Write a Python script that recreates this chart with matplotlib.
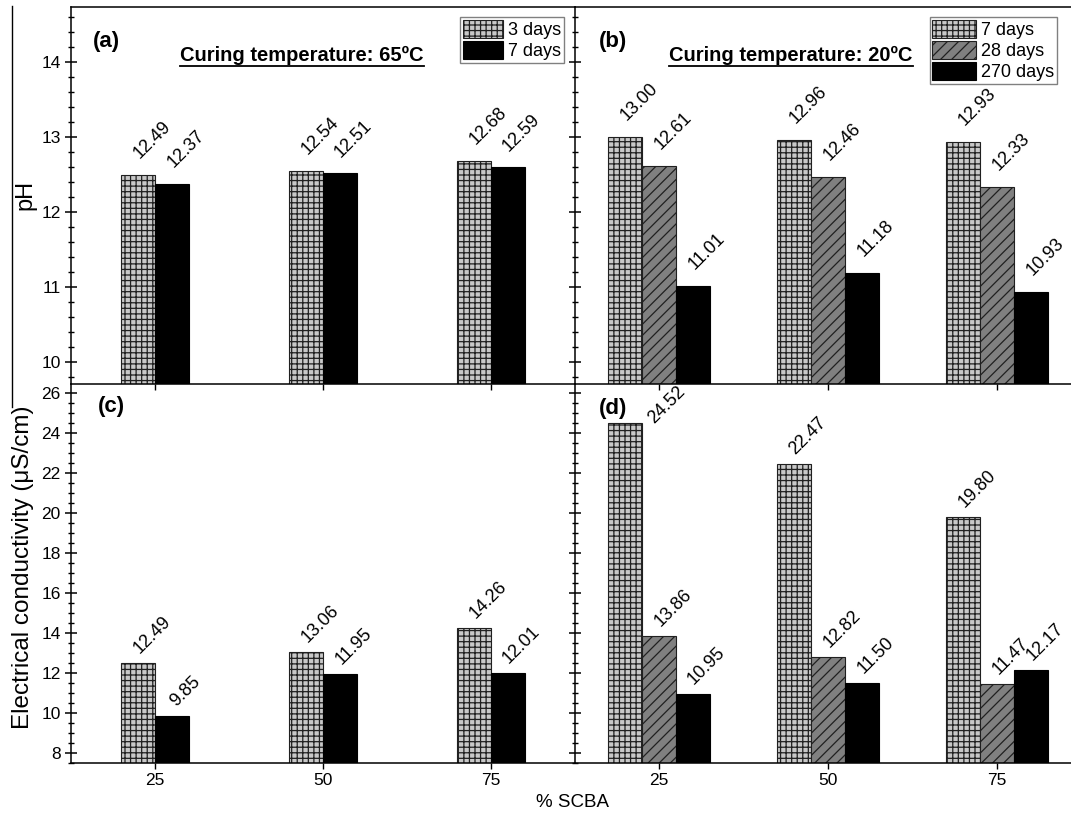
import numpy as np
import matplotlib
matplotlib.use('Agg')
import matplotlib.pyplot as plt
from matplotlib.lines import Line2D
from matplotlib.ticker import MultipleLocator

plt.rcParams['font.family'] = ['Liberation Sans', 'DejaVu Sans']
plt.rcParams['hatch.linewidth'] = 0.9
plt.rcParams['hatch.color'] = '#202020'

# % SCBA categories
scba = [25, 50, 75]

# pH, curing 65 C
ph65_3d = [12.49, 12.54, 12.68]
ph65_7d = [12.37, 12.51, 12.59]
# pH, curing 20 C
ph20_7d = [13.00, 12.96, 12.93]
ph20_28d = [12.61, 12.46, 12.33]
ph20_270d = [11.01, 11.18, 10.93]
# electrical conductivity (uS/cm), curing 65 C
ec65_3d = [12.49, 13.06, 14.26]
ec65_7d = [9.85, 11.95, 12.01]
# electrical conductivity (uS/cm), curing 20 C
ec20_7d = [24.52, 22.47, 19.80]
ec20_28d = [13.86, 12.82, 11.47]
ec20_270d = [10.95, 11.50, 12.17]

W, H = 1071, 813
fig = plt.figure(figsize=(W / 100, H / 100), dpi=100)


def fx(px):
    return px / W


def fy(py):
    return 1 - py / H


xl, xm, xr = 71, 575, 1071
yt, ym, yb = 7, 384, 763
ax_a = fig.add_axes([fx(xl), fy(ym), fx(xm - xl), fy(yt) - fy(ym)])
ax_b = fig.add_axes([fx(xm), fy(ym), fx(xr - xm), fy(yt) - fy(ym)])
ax_c = fig.add_axes([fx(xl), fy(yb), fx(xm - xl), fy(ym) - fy(yb)])
ax_d = fig.add_axes([fx(xm), fy(yb), fx(xr - xm), fy(ym) - fy(yb)])

styles = {
    'grid': dict(facecolor='#c8c8c8', hatch='+++', edgecolor='#202020', linewidth=0.8),
    'diag': dict(facecolor='#808080', hatch='///', edgecolor='#202020', linewidth=0.8),
    'black': dict(facecolor='black', edgecolor='black', linewidth=0.8),
}

bw = 5
lab_fs = 13


def draw_bars(ax, series, labels, kinds, offsets, dy):
    x = np.array(scba, dtype=float)
    anns = []
    for vals, lab, kind, off in zip(series, labels, kinds, offsets):
        ax.bar(x + off, vals, width=bw, label=lab, **styles[kind])
        row = []
        for xi, v in zip(x + off, vals):
            row.append(ax.annotate(f'{v:.2f}', xy=(xi, v), xytext=(14, dy),
                                   textcoords='offset pixels', rotation=45,
                                   ha='center', va='bottom', fontsize=lab_fs))
        anns.append(row)
    return anns


draw_bars(ax_a, [ph65_3d, ph65_7d], ['3 days', '7 days'], ['grid', 'black'], [-2.5, 2.5], 13)
draw_bars(ax_b, [ph20_7d, ph20_28d, ph20_270d], ['7 days', '28 days', '270 days'],
          ['grid', 'diag', 'black'], [-5, 0, 5], 13)
draw_bars(ax_c, [ec65_3d, ec65_7d], ['3 days', '7 days'], ['grid', 'black'], [-2.5, 2.5], 6)
anns_d = draw_bars(ax_d, [ec20_7d, ec20_28d, ec20_270d], ['7 days', '28 days', '270 days'],
                   ['grid', 'diag', 'black'], [-5, 0, 5], 6)
# the tallest label sits beside its bar, clear of "(d)"
anns_d[0][0].xyann = (42, -4)

for ax in (ax_a, ax_c):
    ax.set_xlim(12.5, 87.5)
for ax in (ax_b, ax_d):
    ax.set_xlim(12.6, 85.9)
for ax in (ax_a, ax_b):
    ax.set_ylim(9.7, 14.73)
    ax.yaxis.set_major_locator(MultipleLocator(1))
    ax.yaxis.set_minor_locator(MultipleLocator(0.2))
for ax in (ax_c, ax_d):
    ax.set_ylim(7.5, 26.45)
    ax.yaxis.set_major_locator(MultipleLocator(2))
    ax.yaxis.set_minor_locator(MultipleLocator(0.5))

for ax in (ax_a, ax_b, ax_c, ax_d):
    ax.set_xticks(scba)
    ax.patch.set_alpha(0)
    for s in ax.spines.values():
        s.set_linewidth(1.1)
    ax.spines['right'].set_visible(False)
    ax.tick_params(axis='y', which='major', direction='inout', length=8, width=1.1, labelsize=12.5)
    ax.tick_params(axis='y', which='minor', direction='inout', length=5, width=1)
    ax.tick_params(axis='x', direction='out', length=4, width=1, labelsize=12.5)
for ax in (ax_c, ax_d):
    ax.spines['top'].set_visible(False)
for ax in (ax_a, ax_b):
    ax.tick_params(axis='x', labelbottom=False)
for ax in (ax_b, ax_d):
    ax.tick_params(axis='y', labelleft=False)

fig.text(fx(25), fy(195), 'pH', rotation=90, ha='center', va='center', fontsize=17)
fig.text(fx(23), fy(567), 'Electrical conductivity (\u03bcS/cm)', rotation=90,
         ha='center', va='center', fontsize=17.5)
fig.text(fx(573), fy(802), '% SCBA', ha='center', va='center', fontsize=13.5)

for lab, px, py in [('(a)', 106, 42), ('(b)', 613, 42), ('(c)', 111, 406), ('(d)', 613, 408)]:
    fig.text(fx(px), fy(py), lab, ha='center', va='center', fontsize=16, fontweight='bold')

titles = []
for txt, px in [('Curing temperature: 65\u00baC', 302), ('Curing temperature: 20\u00baC', 791)]:
    titles.append(fig.text(fx(px), fy(61), txt, ha='center', va='baseline',
                           fontsize=14.5, fontweight='bold'))

leg_kw = dict(loc='upper right', fontsize=13, frameon=True, fancybox=False, framealpha=1,
              edgecolor='#808080', borderpad=0.15, labelspacing=0.12, handletextpad=0.3,
              borderaxespad=0, handleheight=1.15)
leg_a = ax_a.legend(bbox_to_anchor=(fx(564), fy(17)), bbox_transform=fig.transFigure,
                    handlelength=2.2, **leg_kw)
leg_b = ax_b.legend(bbox_to_anchor=(fx(1057), fy(17)), bbox_transform=fig.transFigure,
                    handlelength=2.4, **leg_kw)
for leg in (leg_a, leg_b):
    leg.get_frame().set_linewidth(1.0)

# stray frame line at the far left
fig.add_artist(Line2D([fx(12), fx(12)], [fy(6), fy(407)], color='black', lw=1.0))

fig.canvas.draw()
r = fig.canvas.get_renderer()
for t in titles:
    bb = t.get_window_extent(r).transformed(fig.transFigure.inverted())
    fig.add_artist(Line2D([bb.x0, bb.x1], [fy(66), fy(66)], color='black', lw=1.3))

fig.savefig('out.png', dpi=100)
